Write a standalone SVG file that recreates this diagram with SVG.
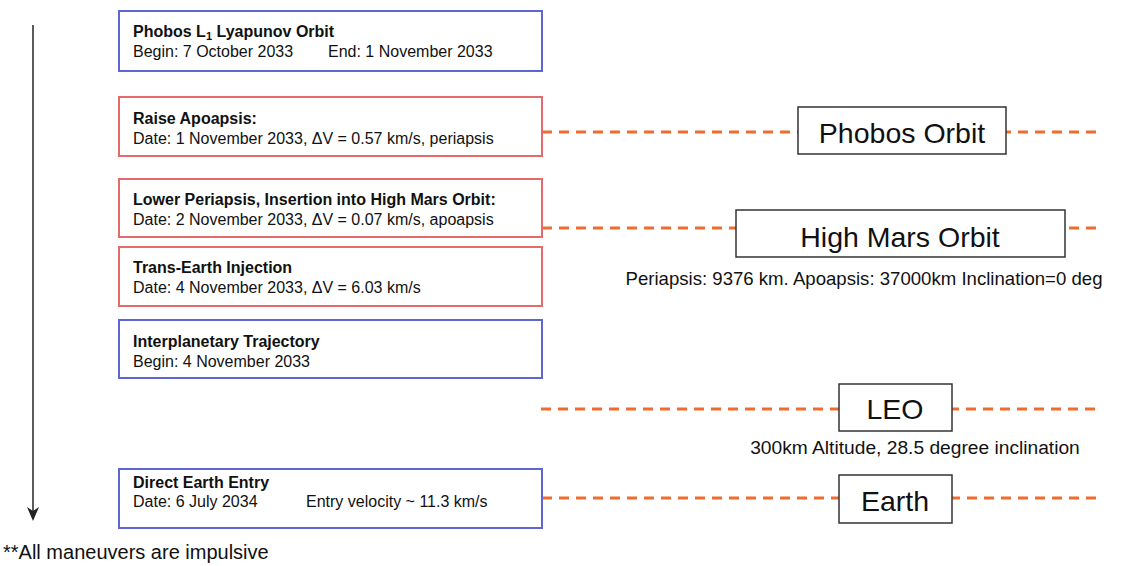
<svg xmlns="http://www.w3.org/2000/svg" width="1126" height="566" viewBox="0 0 1126 566">
<style>
.bg{fill:#ffffff}
.blue{fill:#ffffff;stroke:#5f66d4;stroke-width:2}
.red{fill:#ffffff;stroke:#e36b6b;stroke-width:2}
.orb{fill:#ffffff;stroke:#333333;stroke-width:1.5}
.t{font-family:"Liberation Sans",Arial,sans-serif;font-size:16px;fill:#111111}
.b{font-weight:bold}
.big{font-family:"Liberation Sans",Arial,sans-serif;font-size:28.5px;fill:#111111;text-anchor:middle}
.note{font-family:"Liberation Sans",Arial,sans-serif;fill:#111111;text-anchor:middle}
.dash{stroke:#ef6c2c;stroke-width:3;stroke-dasharray:10 7;fill:none}
</style>
<rect class="bg" x="0" y="0" width="1126" height="566"/>
<g id="timeline">
<line x1="33" y1="25" x2="33" y2="516" stroke="#333333" stroke-width="1.6"/>
<path d="M27,507 L33,521 L39,507 L33,511 Z" fill="#222222"/>
</g>
<g id="connectors">
<line class="dash" x1="542" y1="132" x2="1096" y2="132"/>
<line class="dash" x1="542" y1="228" x2="1096" y2="228"/>
<line class="dash" x1="541" y1="409" x2="1096" y2="409"/>
<line class="dash" x1="542" y1="498" x2="1096" y2="498"/>
</g>
<g id="phobos-l1">
<rect class="blue" x="119" y="11" width="423" height="60"/>
<text class="t b" x="133" y="37">Phobos L<tspan font-size="11" dy="3">1</tspan><tspan dy="-3"> Lyapunov Orbit</tspan></text>
<text class="t" x="133" y="57">Begin: 7 October 2033</text>
<text class="t" x="328" y="57">End: 1 November 2033</text>
</g>
<g id="raise-apoapsis">
<rect class="red" x="119" y="97" width="423" height="59"/>
<text class="t b" x="133" y="123.5">Raise Apoapsis:</text>
<text class="t" x="133" y="143.5">Date: 1 November 2033, ΔV = 0.57 km/s, periapsis</text>
</g>
<g id="lower-periapsis">
<rect class="red" x="119" y="179" width="423" height="58"/>
<text class="t b" x="133" y="205">Lower Periapsis, Insertion into High Mars Orbit:</text>
<text class="t" x="133" y="224.5">Date: 2 November 2033, ΔV = 0.07 km/s, apoapsis</text>
</g>
<g id="trans-earth">
<rect class="red" x="119" y="247" width="423" height="59"/>
<text class="t b" x="133" y="273">Trans-Earth Injection</text>
<text class="t" x="133" y="292.5">Date: 4 November 2033, ΔV = 6.03 km/s</text>
</g>
<g id="interplanetary">
<rect class="blue" x="119" y="320" width="423" height="58"/>
<text class="t b" x="133" y="347">Interplanetary Trajectory</text>
<text class="t" x="133" y="366.5">Begin: 4 November 2033</text>
</g>
<g id="direct-entry">
<rect class="blue" x="119" y="469" width="423" height="59"/>
<text class="t b" x="133" y="488">Direct Earth Entry</text>
<text class="t" x="133" y="507">Date: 6 July 2034</text>
<text class="t" x="306" y="507">Entry velocity ~ 11.3 km/s</text>
</g>
<g id="phobos-orbit">
<rect class="orb" x="798" y="107" width="208" height="47"/>
<text class="big" x="902" y="143">Phobos Orbit</text>
</g>
<g id="high-mars-orbit">
<rect class="orb" x="736" y="210" width="329" height="47"/>
<text class="big" x="900" y="247">High Mars Orbit</text>
<text class="note" x="864" y="285" font-size="18.6">Periapsis: 9376 km. Apoapsis: 37000km Inclination=0 deg</text>
</g>
<g id="leo">
<rect class="orb" x="839" y="384" width="113" height="47"/>
<text class="big" x="895" y="419">LEO</text>
<text class="note" x="915" y="454" font-size="19.2">300km Altitude, 28.5 degree inclination</text>
</g>
<g id="earth">
<rect class="orb" x="839" y="475" width="113" height="48"/>
<text class="big" x="895" y="511">Earth</text>
</g>
<text class="t" x="3" y="559" style="font-size:20px">**All maneuvers are impulsive</text>
</svg>
